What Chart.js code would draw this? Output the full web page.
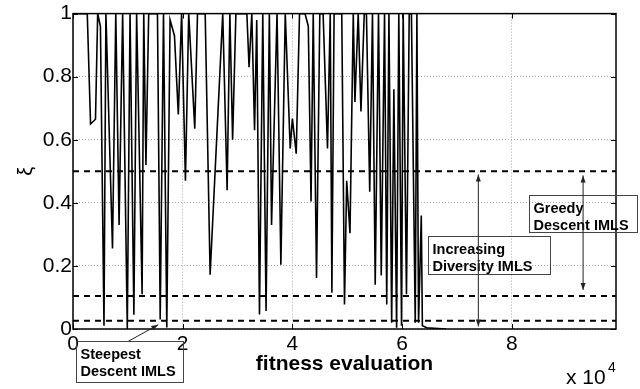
<!DOCTYPE html>
<html>
<head>
<meta charset="utf-8">
<script src="https://cdn.jsdelivr.net/npm/chart.js@4/dist/chart.umd.min.js"></script>
<style>
  body { margin: 0; background: #fff; }
  #wrap { width: 640px; height: 389px; }
</style>
</head>
<body>
<div id="wrap"><canvas id="chart"></canvas></div>
<script>
// fitness evaluations (x 10^4) and the xi value
const evals = [
  0.00, 0.26, 0.32, 0.41, 0.45, 0.50, 0.565, 0.60, 0.72, 0.78, 0.84, 0.905, 0.99, 1.04,
  1.11, 1.16, 1.26, 1.29, 1.33, 1.38, 1.54, 1.59, 1.65, 1.71, 1.77, 1.85, 1.92, 1.98,
  2.05, 2.11, 2.22, 2.27, 2.41, 2.50, 2.73, 2.81, 2.86, 2.91, 2.97, 3.17, 3.21, 3.26,
  3.31, 3.35, 3.40, 3.46, 3.52, 3.58, 3.62, 3.72, 3.79, 3.87, 3.96, 4.00, 4.07, 4.13,
  4.23, 4.29, 4.34, 4.38, 4.44, 4.50, 4.56, 4.64, 4.69, 4.72, 4.76, 4.90, 4.95, 4.99,
  5.05, 5.11, 5.14, 5.20, 5.25, 5.31, 5.35, 5.41, 5.46, 5.51, 5.57, 5.62, 5.68, 5.72,
  5.76, 5.81, 5.85, 5.90, 5.94, 5.99, 6.02, 6.08, 6.13, 6.17, 6.24, 6.27, 6.30, 6.35,
  6.37, 6.45, 6.80
];
const xi = [
  1, 1, 0.65, 0.665, 1, 0.96, 0.01, 1, 0.255, 1, 0.33, 1, 0, 1,
  0.045, 1, 0.11, 1, 0.52, 1, 1, 0.03, 1, 0.005, 0.98, 0.93, 0.68, 1,
  0.47, 1, 0.635, 1, 1, 0.172, 1, 0.44, 1, 0.6, 1, 1, 0.83, 1,
  0.63, 0.98, 0.046, 1, 0.057, 1, 0.33, 1, 0.204, 1, 0.572, 0.667, 0.556, 1,
  1, 0.96, 0.404, 1, 0.162, 1, 1, 0.572, 1, 0.115, 1, 1, 0.078, 0.47,
  0.304, 1, 0.72, 1, 0.69, 1, 1, 0.435, 1, 0.14, 1, 0.17, 1, 0.078,
  1, 0.02, 0.76, 0.004, 1, 0.01, 1, 0.11, 1, 1, 0.02, 1, 0.02, 0.36,
  0.01, 0.004, 0
];
const thresholds = [0.5, 0.105, 0.026];
const xTicks = [0, 2, 4, 6, 8];
const yTicks = [0, 0.2, 0.4, 0.6, 0.8, 1];
const xMax = 9.9;

const FONT = '"Liberation Sans", Arial, Helvetica, sans-serif';
Chart.defaults.font.family = FONT;
Chart.defaults.color = '#000';

// text boxes and arrows, in data units
const notes = [
  { lines: ['Greedy', 'Descent IMLS'], x0: 8.32, x1: 10.28, y0: 0.424, y1: 0.306 },
  { lines: ['Increasing', 'Diversity IMLS'], x0: 6.48, x1: 8.70, y0: 0.294, y1: 0.173 },
  { lines: ['Steepest', 'Descent IMLS'], x0: 0.055, x1: 2.01, y0: -0.039, y1: -0.167 }
];
const arrows = [
  { x0: 7.39, y0: 0.49, x1: 7.39, y1: 0.008, both: true },
  { x0: 9.30, y0: 0.487, x1: 9.30, y1: 0.124, both: true },
  { x0: 1.008, y0: -0.039, x1: 1.555, y1: 0.0136, both: false }
];

function arrowHead(ctx, x, y, ang) {
  const len = 7, half = 2.5;
  ctx.beginPath();
  ctx.moveTo(x, y);
  ctx.lineTo(x - len * Math.cos(ang) + half * Math.sin(ang), y - len * Math.sin(ang) - half * Math.cos(ang));
  ctx.lineTo(x - len * Math.cos(ang) - half * Math.sin(ang), y - len * Math.sin(ang) + half * Math.cos(ang));
  ctx.closePath();
  ctx.fill();
}

const decorations = {
  id: 'decorations',
  afterDraw(chart) {
    const { ctx, chartArea: a, scales: { x, y } } = chart;
    ctx.save();
    // inward tick marks
    ctx.strokeStyle = '#000';
    ctx.lineWidth = 1;
    ctx.beginPath();
    xTicks.forEach(v => {
      const px = Math.round(x.getPixelForValue(v)) + 0.5;
      ctx.moveTo(px, a.bottom); ctx.lineTo(px, a.bottom - 5);
      ctx.moveTo(px, a.top); ctx.lineTo(px, a.top + 5);
    });
    yTicks.forEach(v => {
      const py = Math.round(y.getPixelForValue(v)) + 0.5;
      ctx.moveTo(a.left, py); ctx.lineTo(a.left + 5, py);
      ctx.moveTo(a.right, py); ctx.lineTo(a.right - 5, py);
    });
    ctx.stroke();
    // frame
    ctx.lineWidth = 1.5;
    ctx.strokeRect(a.left, a.top, a.right - a.left, a.bottom - a.top);

    // text boxes
    ctx.lineWidth = 1;
    ctx.strokeStyle = '#444';
    ctx.fillStyle = '#000';
    ctx.font = 'bold 14.5px ' + FONT;
    ctx.textBaseline = 'alphabetic';
    ctx.textAlign = 'left';
    notes.forEach(n => {
      const l = Math.round(x.getPixelForValue(n.x0)) + 0.5;
      const r = Math.round(x.getPixelForValue(n.x1)) + 0.5;
      const t = Math.round(y.getPixelForValue(n.y0)) + 0.5;
      const b = Math.round(y.getPixelForValue(n.y1)) + 0.5;
      ctx.strokeRect(l, t, r - l, b - t);
      n.lines.forEach((s, i) => ctx.fillText(s, l + 4, t + 17 + i * 17));
    });

    // arrows
    ctx.strokeStyle = '#222';
    ctx.fillStyle = '#222';
    arrows.forEach(ar => {
      const x0 = x.getPixelForValue(ar.x0), y0 = y.getPixelForValue(ar.y0);
      const x1 = x.getPixelForValue(ar.x1), y1 = y.getPixelForValue(ar.y1);
      ctx.beginPath();
      ctx.moveTo(x0, y0); ctx.lineTo(x1, y1);
      ctx.stroke();
      const ang = Math.atan2(y1 - y0, x1 - x0);
      arrowHead(ctx, x1, y1, ang);
      if (ar.both) arrowHead(ctx, x0, y0, ang + Math.PI);
    });

    // exponent label
    ctx.fillStyle = '#000';
    ctx.font = '21px ' + FONT;
    ctx.fillText('x 10', 566, 384);
    ctx.font = '14px ' + FONT;
    ctx.fillText('4', 608, 372);
    ctx.restore();
  }
};

const datasets = [{
  data: evals.map((v, i) => ({ x: v, y: xi[i] })),
  borderColor: '#000',
  borderWidth: 1.6,
  pointRadius: 0,
  tension: 0,
  order: 1
}].concat(thresholds.map(t => ({
  data: [{ x: 0, y: t }, { x: xMax, y: t }],
  borderColor: '#000',
  borderWidth: 2,
  borderDash: [6, 5],
  pointRadius: 0,
  order: 0
})));

new Chart(document.getElementById('chart'), {
  type: 'line',
  data: { datasets },
  options: {
    responsive: true,
    maintainAspectRatio: false,
    animation: false,
    layout: { padding: { top: 13, right: 24, left: 0, bottom: 0 } },
    plugins: { legend: { display: false }, tooltip: { enabled: false } },
    scales: {
      x: {
        type: 'linear',
        min: 0,
        max: xMax,
        afterBuildTicks: s => { s.ticks = xTicks.map(v => ({ value: v })); },
        afterFit: s => { s.height = 60; },
        ticks: { font: { size: 21 }, padding: 3, maxRotation: 0, callback: v => String(v) },
        grid: { color: '#aaa', lineWidth: 1, drawTicks: false },
        border: { display: false, dash: [1, 2] },
        title: { display: true, text: 'fitness evaluation', font: { size: 21, weight: 'bold' }, padding: { top: 0, bottom: 12 } }
      },
      y: {
        min: 0,
        max: 1,
        afterBuildTicks: s => { s.ticks = yTicks.map(v => ({ value: v })); },
        afterFit: s => { s.width = 73; },
        ticks: { font: { size: 21 }, padding: 1, callback: v => String(v) },
        grid: { color: '#aaa', lineWidth: 1, drawTicks: false },
        border: { display: false, dash: [1, 2] },
        title: { display: true, text: 'ξ', font: { size: 20 }, padding: { top: 14, bottom: 0 } }
      }
    }
  },
  plugins: [decorations]
});
</script>
</body>
</html>
